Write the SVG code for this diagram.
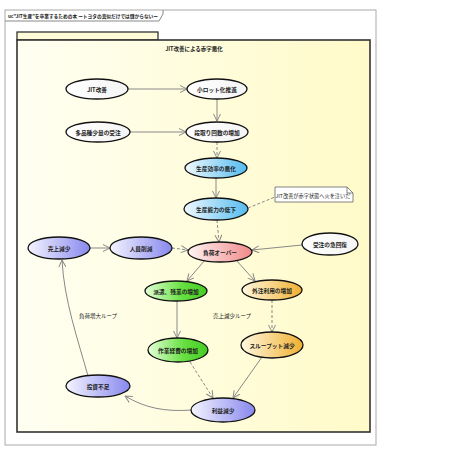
<svg xmlns="http://www.w3.org/2000/svg" width="453" height="453" viewBox="0 0 453 453">
<style>
.t{font-family:"Noto Sans CJK JP","Noto Sans",sans-serif;font-weight:bold;fill:#222;text-anchor:middle;dominant-baseline:central}
.n{font-size:5.7px}
.e{stroke:#111;stroke-width:1.3}
.c{fill:none;stroke:#888;stroke-width:1}
.d{stroke-dasharray:3,2}
</style>
<defs>
<marker id="a" viewBox="0 0 8 8" refX="7.5" refY="4" markerWidth="8" markerHeight="8" markerUnits="userSpaceOnUse" orient="auto">
<path d="M0.5,0.5 L7.5,4 L0.5,7.5" fill="none" stroke="#888" stroke-width="1"/>
</marker>
<linearGradient id="bg" x1="0" y1="0" x2="1" y2="0"><stop offset="0" stop-color="#fffff2"/><stop offset="1" stop-color="#fffac8"/></linearGradient>
<linearGradient id="wh" x1="0" y1="0" x2="1" y2="0"><stop offset="0" stop-color="#ffffff"/><stop offset="1" stop-color="#f4f4f4"/></linearGradient>
<linearGradient id="bl" x1="0" y1="0" x2="1" y2="0"><stop offset="0" stop-color="#eef9ff"/><stop offset="1" stop-color="#55bbee"/></linearGradient>
<linearGradient id="lv" x1="0" y1="0" x2="1" y2="0"><stop offset="0" stop-color="#f4f4ff"/><stop offset="1" stop-color="#8888ee"/></linearGradient>
<linearGradient id="pk" x1="0" y1="0" x2="1" y2="0"><stop offset="0" stop-color="#fff4f4"/><stop offset="1" stop-color="#f08a8a"/></linearGradient>
<linearGradient id="gr" x1="0" y1="0" x2="1" y2="0"><stop offset="0" stop-color="#e4ffd8"/><stop offset="0.6" stop-color="#66e040"/><stop offset="1" stop-color="#44cc22"/></linearGradient>
<linearGradient id="or" x1="0" y1="0" x2="1" y2="0"><stop offset="0" stop-color="#fff8e0"/><stop offset="1" stop-color="#f0b030"/></linearGradient>
</defs>
<rect width="453" height="453" fill="#fff"/>
<g id="frame">
<rect x="5" y="10" width="371" height="435" fill="none" stroke="#aaa" stroke-width="1"/>
<path d="M5,21 H159 L163,14 V10" fill="none" stroke="#888" stroke-width="1"/>
<text x="8" y="15.5" class="t" textLength="150" lengthAdjust="spacingAndGlyphs" style="font-size:5px;text-anchor:start">uc"JIT生産"を卒業するための本 ートヨタの真似だけでは儲からないー</text>
</g>
<g id="package">
<rect x="17" y="32" width="141" height="8" fill="#fffbd8" stroke="#222" stroke-width="1.2"/>
<rect x="17" y="40" width="353" height="392" fill="url(#bg)" stroke="#333" stroke-width="1.6"/>
<text x="194" y="49" class="t" style="font-size:5.5px">JIT改善による赤字悪化</text>
</g>
<g id="connectors">
<path class="c" d="M128,89 H187" marker-end="url(#a)"/>
<path class="c" d="M217,99 V121" marker-end="url(#a)"/>
<path class="c" d="M130,132 H186" marker-end="url(#a)"/>
<path class="c d" d="M217,142 V158" marker-end="url(#a)"/>
<path class="c" d="M216,178 V198" marker-end="url(#a)"/>
<path class="c d" d="M217,220 L219,242" marker-end="url(#a)"/>
<path class="c d" d="M248,208 L275,197"/>
<path class="c" d="M302,245 L252,250" marker-end="url(#a)"/>
<path class="c d" d="M172,248 L188,250" marker-end="url(#a)"/>
<path class="c" d="M90,248 H110" marker-end="url(#a)"/>
<path class="c" d="M205,260 L187,281" marker-end="url(#a)"/>
<path class="c" d="M236,260 L255,281" marker-end="url(#a)"/>
<path class="c" d="M177,301 V338" marker-end="url(#a)"/>
<path class="c d" d="M272,300 V332" marker-end="url(#a)"/>
<path class="c d" d="M190,362 L213,398" marker-end="url(#a)"/>
<path class="c" d="M262,357 L233,398" marker-end="url(#a)"/>
<path class="c" d="M192,410 C165,412 145,408 125,396" marker-end="url(#a)"/>
<path class="c" d="M88,376 C78,340 64,300 62,260" marker-end="url(#a)"/>
</g>
<g id="n1"><ellipse class="e" cx="97" cy="89" rx="31" ry="10" fill="url(#wh)"/><text class="t n" x="97" y="89">JIT改善</text></g>
<g id="n2"><ellipse class="e" cx="217" cy="89" rx="30" ry="10" fill="url(#wh)"/><text class="t n" x="217" y="89">小ロット化推進</text></g>
<g id="n3"><ellipse class="e" cx="98" cy="132" rx="32" ry="10" fill="url(#wh)"/><text class="t n" x="98" y="132">多品種少量の受注</text></g>
<g id="n4"><ellipse class="e" cx="217" cy="132" rx="31" ry="10" fill="url(#wh)"/><text class="t n" x="217" y="132">段取り回数の増加</text></g>
<g id="n5"><ellipse class="e" cx="216" cy="168" rx="31" ry="10" fill="url(#bl)"/><text class="t n" x="216" y="168">生産効率の悪化</text></g>
<g id="n6"><ellipse class="e" cx="216" cy="209" rx="32" ry="11" fill="url(#bl)"/><text class="t n" x="216" y="209">生産能力の低下</text></g>
<g id="note"><path d="M275,187 H347 L353,193 V202 H275 Z" fill="#fff" stroke="#666" stroke-width="0.8"/><path d="M347,187 V193 H353" fill="none" stroke="#666" stroke-width="0.8"/><text class="t" style="font-size:5.2px;font-weight:normal" x="313" y="195">JIT改善が赤字状態へ火を注いだ</text></g>
<g id="n7"><ellipse class="e" cx="220" cy="252" rx="32" ry="10" fill="url(#pk)"/><text class="t n" x="220" y="252">負荷オーバー</text></g>
<g id="n8"><ellipse class="e" cx="330" cy="244" rx="28" ry="11" fill="url(#wh)"/><text class="t n" x="330" y="244">受注の急回復</text></g>
<g id="n9"><ellipse class="e" cx="59" cy="248" rx="31" ry="11" fill="url(#lv)"/><text class="t n" x="59" y="248">売上減少</text></g>
<g id="n10"><ellipse class="e" cx="141" cy="248" rx="31" ry="11" fill="url(#lv)"/><text class="t n" x="141" y="248">人員削減</text></g>
<g id="n11"><ellipse class="e" cx="176" cy="291" rx="31" ry="10" fill="url(#gr)"/><text class="t n" x="176" y="291">派遣、残業の増加</text></g>
<g id="n12"><ellipse class="e" cx="272" cy="290" rx="30" ry="10" fill="url(#or)"/><text class="t n" x="272" y="290">外注利用の増加</text></g>
<g id="n13"><ellipse class="e" cx="178" cy="350" rx="30" ry="12" fill="url(#gr)"/><text class="t n" x="178" y="350">作業経費の増加</text></g>
<g id="n14"><ellipse class="e" cx="272" cy="345" rx="31" ry="13" fill="url(#or)"/><text class="t n" x="272" y="345">スループット減少</text></g>
<g id="n15"><ellipse class="e" cx="98" cy="386" rx="32" ry="11" fill="url(#lv)"/><text class="t n" x="98" y="386">投資不足</text></g>
<g id="n16"><ellipse class="e" cx="223" cy="410" rx="32" ry="12" fill="url(#lv)"/><text class="t n" x="223" y="410">利益減少</text></g>
<g id="labels">
<text class="t" style="font-size:5.5px;font-weight:normal" x="98" y="316">負荷増大ループ</text>
<text class="t" style="font-size:5.5px;font-weight:normal" x="232" y="316">売上減少ループ</text>
</g>
</svg>
